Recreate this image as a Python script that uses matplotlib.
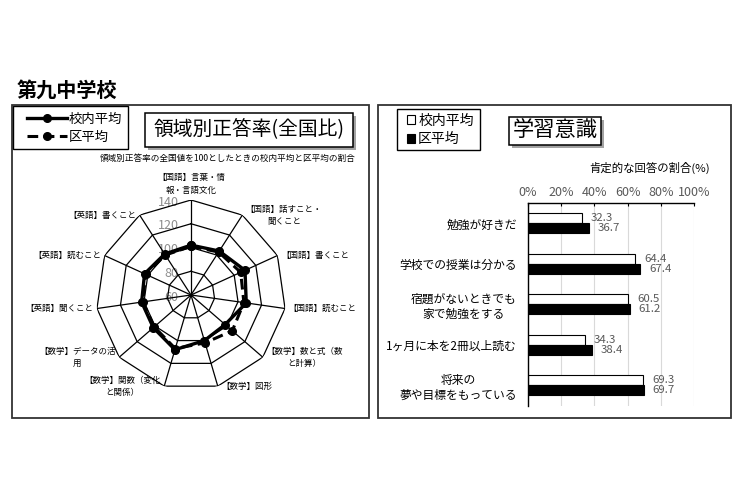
import numpy as np
import matplotlib
matplotlib.use('Agg')
import matplotlib.pyplot as plt
from matplotlib.patches import Rectangle
import matplotlib.patheffects as pe

plt.rcParams['font.family'] = ['Noto Sans CJK JP', 'DejaVu Sans']

W, H = 740, 498

# 領域別正答率(全国比) -- radar data
radar_labels = ['【国語】言葉・情\n報・言語文化', '【国語】話すこと・\n聞くこと', '【国語】書くこと',
                '【国語】読むこと', '【数学】数と式（数\nと計算）', '【数学】図形',
                '【数学】関数（変化\nと関係）', '【数学】データの活\n用', '【英語】聞くこと',
                '【英語】読むこと', '【英語】書くこと']
school_ratio = [102, 104, 110, 107, 98, 100, 108, 102, 102, 103, 101]
district_ratio = [101, 103, 106, 105, 106, 102, 107, 101, 101, 102, 100]
radar_ticks = [60, 80, 100, 120, 140]

# 学習意識 -- bar data
survey_items = ['勉強が好きだ', '学校での授業は分かる', '宿題がないときでも\n家で勉強をする',
                '1ヶ月に本を2冊以上読む', '将来の\n夢や目標をもっている']
school_pct = [32.3, 64.4, 60.5, 34.3, 69.3]
district_pct = [36.7, 67.4, 61.2, 38.4, 69.7]
pct_ticks = [0, 20, 40, 60, 80, 100]


def px_rect(x0, y0, x1, y1):
    # pixel box (top-left origin) -> figure fraction rect
    return [x0 / W, 1 - y1 / H, (x1 - x0) / W, (y1 - y0) / H]


def fx(x):
    return x / W


def fy(y):
    return 1 - y / H


def frame_box(x0, y0, x1, y1, **kw):
    fig.add_artist(Rectangle((fx(x0), fy(y1)), (x1 - x0) / W, (y1 - y0) / H,
                             transform=fig.transFigure, **kw))


fig = plt.figure(figsize=(7.4, 4.98), dpi=100)

# panel frames
frame_box(12, 105, 369, 418, fill=False, ec='#333333', lw=1.3)
frame_box(378, 105, 731, 418, fill=False, ec='#333333', lw=1.3)

fig.text(fx(17), fy(90), '第九中学校', fontsize=14.5, fontweight='bold', va='center', ha='left')

# title boxes with shadow
shadow = [pe.SimplePatchShadow(offset=(2.5, -2.5), shadow_rgbFace='0.55', alpha=0.8), pe.Normal()]
for (x0, y0, x1, y1), title, fs in [((145, 113, 353, 147), '領域別正答率(全国比)', 14.2),
                                    ((509, 117, 601, 145), '学習意識', 15.3)]:
    frame_box(x0, y0, x1, y1, fc='white', ec='black', lw=1.1, path_effects=shadow)
    fig.text(fx((x0 + x1) / 2), fy((y0 + y1) / 2), title, fontsize=fs, ha='center', va='center')

fig.text(fx(356), fy(158), '領域別正答率の全国値を100としたときの校内平均と区平均の割合',
         fontsize=6.2, ha='right', va='center')

# ---- radar chart ----
n = len(radar_labels)
angles = np.linspace(0, 2 * np.pi, n, endpoint=False)
closed = np.append(angles, angles[0])

ax = fig.add_axes(px_rect(96, 200, 286, 390), projection='polar')
ax.set_theta_zero_location('N')
ax.set_theta_direction(-1)
ax.set_ylim(radar_ticks[0], radar_ticks[-1])
ax.set_axis_off()

for r in radar_ticks[1:]:
    ax.plot(closed, [r] * (n + 1), color='black', lw=0.9, zorder=1)
for a in angles:
    ax.plot([a, a], [radar_ticks[0], radar_ticks[-1]], color='black', lw=0.9, zorder=1)

for r in radar_ticks:
    ax.annotate(str(r), xy=(0, r), xytext=(-9, -1.5), textcoords='offset points',
                ha='right', va='center', color='#8c8c8c', fontsize=9, zorder=0)

school_closed = np.append(school_ratio, school_ratio[0])
district_closed = np.append(district_ratio, district_ratio[0])
l2, = ax.plot(closed, district_closed, color='black', lw=2.2, ls=(0, (3.5, 1.8)),
              marker='o', ms=5.5, zorder=3, label='区平均')
l1, = ax.plot(closed, school_closed, color='black', lw=2.4, marker='o', ms=5.5,
              zorder=4, label='校内平均')

for a, lab in zip(angles, radar_labels):
    s = np.sin(a)
    if abs(s) < 0.1:
        ha, va, off = 'center', 'bottom', (0, 4)
    else:
        ha = 'left' if s > 0 else 'right'
        va, off = 'center', (2.5 * np.sign(s), 0)
    ax.annotate(lab, xy=(a, radar_ticks[-1]), xytext=off, textcoords='offset points',
                ha=ha, va=va, multialignment='center', fontsize=6.1, linespacing=1.45)

frame_box(13, 106, 128, 149, fc='white', ec='black', lw=1.0)
fig.legend(handles=[l1, l2], loc='center left', bbox_to_anchor=(fx(27), fy(128)),
           bbox_transform=fig.transFigure, frameon=False,
           fontsize=9.6, handlelength=3.0, handletextpad=0.15, borderpad=0,
           labelspacing=0.3, borderaxespad=0)

# ---- bar chart ----
bx = fig.add_axes(px_rect(528, 203, 694, 405.5))
y = np.arange(len(survey_items))
b1 = bx.barh(y - 0.125, school_pct, height=0.25, color='white', edgecolor='black', lw=0.8,
             label='校内平均')
b2 = bx.barh(y + 0.125, district_pct, height=0.25, color='black', edgecolor='black', lw=0.8,
             label='区平均')
bx.set_xlim(0, 100)
bx.set_ylim(len(survey_items) - 0.5, -0.5)
bx.set_yticks(y)
bx.set_yticklabels(survey_items, fontsize=8.5, multialignment='center')
bx.xaxis.tick_top()
bx.set_xticks(pct_ticks)
bx.set_xticklabels([f'{t}%' for t in pct_ticks])
bx.tick_params(axis='x', direction='in', length=2.5, width=0.8, colors='black',
               labelcolor='#595959', labelsize=9, pad=3)
bx.tick_params(axis='y', length=0, pad=8)
bx.xaxis.grid(True, color='#d9d9d9', lw=0.8)
bx.set_axisbelow(True)
for side in ['right', 'bottom']:
    bx.spines[side].set_visible(False)
for side in ['top', 'left']:
    bx.spines[side].set_linewidth(1.0)

for i in range(len(survey_items)):
    bx.annotate(f'{school_pct[i]:.1f}', (school_pct[i], i - 0.125), xytext=(6.5, 0),
                textcoords='offset points', ha='left', va='center', color='#595959', fontsize=8.2)
    bx.annotate(f'{district_pct[i]:.1f}', (district_pct[i], i + 0.125), xytext=(6.5, 0),
                textcoords='offset points', ha='left', va='center', color='#595959', fontsize=8.2)

fig.text(fx(710), fy(168), '肯定的な回答の割合(%)', fontsize=8.2, ha='right', va='center')

frame_box(397, 109, 480, 150, fc='white', ec='black', lw=1.0)
fig.legend(handles=[b1, b2], loc='center left', bbox_to_anchor=(fx(407), fy(130)),
           bbox_transform=fig.transFigure, frameon=False,
           fontsize=10, handlelength=0.6, handleheight=0.6, handletextpad=0.2,
           borderpad=0, labelspacing=0.35, borderaxespad=0)

fig.savefig('out.png', dpi=100)
